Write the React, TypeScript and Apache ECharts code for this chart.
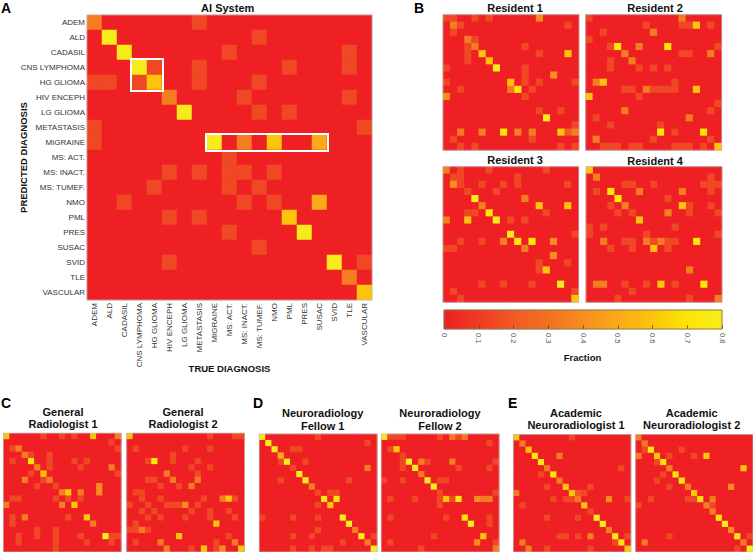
import React, { useEffect, useRef } from "react";
import * as echarts from "echarts";

const diagnoses = ["ADEM","ALD","CADASIL","CNS LYMPHOMA","HG GLIOMA","HIV ENCEPH","LG GLIOMA","METASTASIS","MIGRAINE","MS: ACT.","MS: INACT.","MS: TUMEF.","NMO","PML","PRES","SUSAC","SVID","TLE","VASCULAR"];
// Fractions for the shade levels
const levels = [0, 0.14, 0.2, 0.34, 0.4, 0.5, 0.6, 0.7, 0.8];
const barTicks = [0, 0.1, 0.2, 0.3, 0.4, 0.5, 0.6, 0.7, 0.8];
const barColors = ["#ee2024","#ef3a24","#f15a24","#f37022","#f68e1f","#fbaa19","#fdc40c","#fde608","#f6ec1b"];

// Each matrix: one string per predicted row, "column:shade level" for the cells that are not 0
const aiSystem = ["0:3 7:1","1:8 11:1","2:8 9:1 17:1","3:8 4:1 7:1 13:1 17:1","0:1 1:1 3:1 4:6 7:1 11:1","5:3 10:1 17:1","6:8 11:1 13:1","0:1 18:1","0:1 8:8 10:3 12:6 15:5","9:1","5:1 7:1 9:1 10:1 12:1","4:1 9:1 11:1","2:1 10:1 12:1 15:5","5:1 7:1 13:6","9:1 14:8","11:1","5:1 16:8 18:1","17:3","18:6"];
const resident1 = ["0:1 1:1 4:1 6:1 13:4","1:3 2:1 17:1","1:1","3:3 4:1","3:1 4:3 11:1","3:1 5:6 13:1 17:6","3:1 6:6","0:1 7:8 11:1","11:1 15:4","0:1 9:6 11:1 13:1 18:1","2:1 9:3 10:7 12:1","0:4 11:1","","13:1 16:1","14:8","18:1","2:3 5:3 8:7 10:3 12:3 16:6 17:2 18:3","1:1 12:1","2:1 4:1 16:1 18:1"];
const resident2 = ["0:1 13:3","8:1 13:1 14:1 15:6 17:1","2:1 9:3","0:1","3:1 4:7 7:3 11:7 18:1","5:3 13:1 14:1 17:3","3:1 6:3","3:1 7:1 9:1 11:1","","1:3 2:6 12:1","5:1 6:1 8:3 9:1 10:1 11:1 12:1 15:6","0:6 7:1","18:1","5:3 17:1","1:1 14:3","3:1 10:1","10:7 12:1 16:7","1:3 9:1 17:1","2:1 3:1 4:1 6:1 7:1 12:1 13:1 14:1 16:1 18:6"];
const resident3 = ["0:3 2:1 6:1 14:1","1:1 2:1 10:1","1:4 2:1 5:1 8:1 10:1 17:1","3:1 7:1","4:8 11:3","5:3 13:6 17:6","3:1 4:1 6:7 14:1","0:3 3:6 7:8 9:1 11:1","","9:8 18:1","2:1 5:1 8:3 10:7 12:7 15:4","0:1 1:1 11:3","15:4","13:1 17:1","13:1 14:6","","5:1 8:1 12:1 16:8","1:1 18:1","2:1 18:6"];
const resident4 = ["0:6","1:3 17:1","5:1 6:1 9:1 16:1 17:1 18:1","1:1 3:7 7:3 13:3 17:1","4:7 11:1","3:1 5:3 13:6 14:1 17:1","4:1 6:1 11:3 14:1 18:1","7:6","0:1 2:1 12:1","0:1 8:1 18:1","2:3 5:1 6:1 8:3 9:1 10:3 11:1 12:1 15:7","3:1 6:1 9:6 11:1","","","14:3","","1:3 2:3 5:1 8:1 10:6 12:1 16:7","6:1","4:1 14:1 18:3"];
const general1 = ["0:6 6:1 9:1 11:1 14:6 18:3","17:1","1:1 2:3 18:1","3:3 4:1 7:1","1:1 4:7 7:1 11:1 13:1","5:3 7:1 12:1 17:3","4:1 6:6 18:1","3:3 6:1 7:3","5:1 8:1 15:4","9:3 10:6 12:3 15:4","1:1 2:1 8:1 10:1 12:1","0:3 9:3 11:6","","1:1 3:3 10:1 13:6","1:1 14:3","5:1 8:1","2:1 5:1 8:1 12:1 16:8 17:1 18:1","2:1 8:1 13:1 17:1","8:1"];
const general2 = ["0:6 13:1 17:1 18:1","","1:1 9:1 13:1","7:1","3:1 4:7 7:1 11:1","10:1 13:1","6:3 11:1","3:1 4:1 7:3 11:3","5:1 8:1 10:3","1:1 2:1","2:1 5:1 12:1 15:3 16:6 17:1","0:1 3:1 6:1 7:1 8:1 9:4 11:1","2:1 4:1 10:1 13:1 16:1","3:1 5:1 9:1 13:1 17:1","1:1 14:6","0:1 1:1 2:3 3:1","8:6 16:1","1:1 5:3 14:1 17:3","6:3 10:1 12:6 14:1 15:4 18:6"];
const fellow1 = ["0:8 9:1","1:8 17:1","2:8 5:1 6:1","3:5","3:1 4:8 7:1","5:1 17:3","6:8","3:1 7:8 14:1","8:3","9:1 11:1 12:1","10:7 12:7","9:1 11:6","","0:1 5:1 9:1 13:8","14:8","9:1 15:3","5:1 8:1 16:8 18:1","13:1 17:3","5:1 8:1 10:1 11:1 18:8"];
const fellow2 = ["0:8 1:1 2:1 3:1 9:1 11:3 12:1 13:3","17:1","1:1 2:6","3:1","3:1 4:8 6:3 7:1 11:3 18:1","3:1 5:8 12:1 17:1","6:3","0:1 3:1 7:8 9:1 10:1","8:8","9:1 18:1","1:1 5:1 9:1 10:6 11:1 12:7 15:4 16:3 17:3","9:1","","1:1 10:1 13:7 17:1","14:8 17:1","","8:1 16:6","1:1 15:4 18:1","6:1 18:3"];
const academic1 = ["0:6 9:1","1:3","2:6","3:7 7:3","4:8","5:3 17:1","4:1 6:7","7:3","5:1 8:6 12:1","0:3 9:6 10:2 11:1","6:1 8:1 9:1 10:3 15:4 18:1","1:1 11:6","12:1","5:1 10:1 13:8","14:8","15:3","7:1 8:1 10:1 12:3 16:8 18:1","1:3 16:1 17:7","2:3 5:1 12:1 18:6"];
const academic2 = ["0:3","1:3","1:1 2:7 7:1","0:3 3:6 5:1 9:1 11:6","3:1 4:7","5:3 17:6","4:1 6:7","3:1 7:7","5:1 8:3 15:4","9:6","2:1 8:1 9:1 10:7 12:3","0:1 11:3 12:1","12:3","13:7","14:8","15:4","5:1 16:8 18:1","1:3 17:3","16:1 18:8"];

const FONT = "'Liberation Sans', Arial, sans-serif";

const expand = (rows: string[]) => {
  const cells: number[][] = [];
  rows.forEach((row, r) => {
    const shaded: Record<number, number> = {};
    row.split(" ").filter(Boolean).forEach((p) => {
      const [c, l] = p.split(":").map(Number);
      shaded[c] = levels[l];
    });
    diagnoses.forEach((_, c) => cells.push([c, r, shaded[c] ?? 0]));
  });
  return cells;
};

const panels = [
  { rows: aiSystem, l: 87, t: 15, w: 285, h: 285 },
  { rows: resident1, l: 443, t: 14.7, w: 136, h: 135.5 },
  { rows: resident2, l: 585.7, t: 14.7, w: 136, h: 135.5 },
  { rows: resident3, l: 443, t: 166.7, w: 135.7, h: 135.6 },
  { rows: resident4, l: 586, t: 166.7, w: 136, h: 135.6 },
  { rows: general1, l: 3.4, t: 433.2, w: 117.8, h: 118.8 },
  { rows: general2, l: 126.7, t: 433.2, w: 117.8, h: 118.8 },
  { rows: fellow1, l: 259.3, t: 434, w: 117.8, h: 118 },
  { rows: fellow2, l: 381.3, t: 434, w: 117.8, h: 118 },
  { rows: academic1, l: 513.4, t: 434.5, w: 117.5, h: 117.5 },
  { rows: academic2, l: 635.7, t: 434.5, w: 117.3, h: 117.5 },
];
const bar = { l: 444, t: 310, w: 278, h: 19 };

const labels: [string, number, number, number][] = [
  ["AI System", 227.7, 7.7, 11],
  ["Resident 1", 515, 7.5, 11],
  ["Resident 2", 655, 7.5, 11],
  ["Resident 3", 515, 160, 11],
  ["Resident 4", 655, 161, 11],
  ["General\nRadiologist 1", 63, 418, 11],
  ["General\nRadiologist 2", 183, 418, 11],
  ["Neuroradiology\nFellow 1", 322.7, 419.5, 11],
  ["Neuroradiology\nFellow 2", 440, 419.5, 11],
  ["Academic\nNeuroradiologist 1", 576, 419, 11],
  ["Academic\nNeuroradiologist 2", 691.7, 419, 11],
  ["Fraction", 582.5, 357.5, 9.5],
];
const letters: [string, number, number][] = [
  ["A", 1, 7.5],
  ["B", 414, 7.5],
  ["C", 1, 403],
  ["D", 253, 403],
  ["E", 508, 403],
];
const highlights = [
  { col: 3, row: 3, cols: 2, rows: 2 },
  { col: 8, row: 8, cols: 8, rows: 1 },
];

export default function App() {
  const ref = useRef<HTMLDivElement>(null);
  useEffect(() => {
    document.body.style.margin = "0";
    const chart = echarts.init(ref.current!, undefined, { renderer: "svg" });
    const barCats = Array.from({ length: 139 }, (_, i) => String(i));
    const grid: any[] = panels.map((p) => ({
      left: p.l,
      top: p.t,
      width: p.w,
      height: p.h,
      show: true,
      backgroundColor: barColors[0],
      borderWidth: 0,
    }));
    grid.push({ left: bar.l, top: bar.t, width: bar.w, height: bar.h });

    const xAxis: any[] = panels.map((_, i) => ({
      type: "category",
      gridIndex: i,
      data: diagnoses,
      axisTick: { show: false },
      axisLine: { show: false },
      splitLine: { show: false },
      ...(i === 0
        ? {
            name: "TRUE DIAGNOSIS",
            nameLocation: "middle",
            nameGap: 68,
            nameMoveOverlap: false,
            nameTextStyle: { fontFamily: FONT, fontWeight: "bold", fontSize: 9.5, color: "#111", verticalAlign: "middle" },
            axisLabel: { interval: 0, rotate: 90, fontSize: 8, fontFamily: FONT, color: "#333", margin: 3 },
          }
        : { axisLabel: { show: false } }),
    }));
    const yAxis: any[] = panels.map((_, i) => ({
      type: "category",
      gridIndex: i,
      inverse: true,
      data: diagnoses,
      axisTick: { show: false },
      axisLine: { show: false },
      splitLine: { show: false },
      ...(i === 0
        ? {
            name: "PREDICTED DIAGNOSIS",
            nameLocation: "middle",
            nameGap: 63.5,
            nameMoveOverlap: false,
            nameRotate: 90,
            nameTextStyle: { fontFamily: FONT, fontWeight: "bold", fontSize: 9.5, color: "#111", verticalAlign: "middle" },
            axisLabel: { interval: 0, fontSize: 8, fontFamily: FONT, color: "#333", margin: 2 },
          }
        : { axisLabel: { show: false } }),
    }));
    const barIdx = panels.length;
    xAxis.push({ type: "category", gridIndex: barIdx, data: barCats, show: false });
    yAxis.push({ type: "category", gridIndex: barIdx, data: ["f"], show: false });
    xAxis.push({
      type: "value",
      gridIndex: barIdx,
      position: "bottom",
      min: 0,
      max: 0.8,
      interval: 0.1,
      axisLine: { show: false },
      splitLine: { show: false },
      axisTick: { show: true, inside: true, length: 4, lineStyle: { color: "#5a4a30", width: 0.75 } },
      axisLabel: {
        rotate: -90,
        fontSize: 7.5,
        fontFamily: FONT,
        color: "#555",
        margin: 4,
        formatter: (v: number) => String(barTicks[Math.round(v * 10)]),
      },
      z: 5,
    });

    const series: any[] = panels.map((p, i) => ({
      type: "heatmap",
      xAxisIndex: i,
      yAxisIndex: i,
      data: expand(p.rows),
      itemStyle: { borderWidth: 0 },
      emphasis: { disabled: true },
      progressive: 0,
    }));
    series.push({
      type: "heatmap",
      xAxisIndex: barIdx,
      yAxisIndex: barIdx,
      data: barCats.map((_, i) => [i, 0, ((i + 0.5) * 0.8) / barCats.length]),
      emphasis: { disabled: true },
      progressive: 0,
    });

    const graphic: any[] = [];
    panels.forEach((p) =>
      graphic.push({
        type: "rect",
        z: 10,
        shape: { x: p.l, y: p.t, width: p.w, height: p.h },
        style: { fill: "transparent", stroke: "#b9b9b9", lineWidth: 0.75 },
      })
    );
    graphic.push({
      type: "rect",
      z: 10,
      shape: { x: bar.l, y: bar.t, width: bar.w, height: bar.h },
      style: { fill: "transparent", stroke: "#8a7f55", lineWidth: 1 },
    });
    const cell = panels[0].w / diagnoses.length;
    highlights.forEach((b) =>
      graphic.push({
        type: "rect",
        z: 11,
        shape: {
          x: panels[0].l + b.col * cell - 1,
          y: panels[0].t + b.row * cell - 1,
          width: b.cols * cell + 2,
          height: b.rows * cell + 2,
        },
        style: { fill: "transparent", stroke: "#ffffff", lineWidth: 2 },
      })
    );
    labels.forEach(([text, x, y, size]) =>
      graphic.push({
        type: "text",
        z: 12,
        x,
        y,
        style: {
          text,
          fontFamily: FONT,
          fontWeight: "bold",
          fontSize: size,
          lineHeight: 12.5,
          fill: "#111",
          align: "center",
          verticalAlign: "middle",
        },
      })
    );
    letters.forEach(([text, x, y]) =>
      graphic.push({
        type: "text",
        z: 12,
        x,
        y,
        style: { text, fontFamily: FONT, fontWeight: "bold", fontSize: 14, fill: "#000", align: "left", verticalAlign: "middle" },
      })
    );

    chart.setOption({
      animation: false,
      backgroundColor: "#ffffff",
      tooltip: { show: false },
      grid,
      xAxis,
      yAxis,
      visualMap: {
        show: false,
        type: "continuous",
        min: 0,
        max: 0.8,
        seriesIndex: series.map((_, i) => i),
        inRange: { color: barColors },
      },
      series,
      graphic,
    });
    return () => chart.dispose();
  }, []);
  return <div ref={ref} style={{ position: "fixed", left: 0, top: 0, width: 753, height: 552 }} />;
}
